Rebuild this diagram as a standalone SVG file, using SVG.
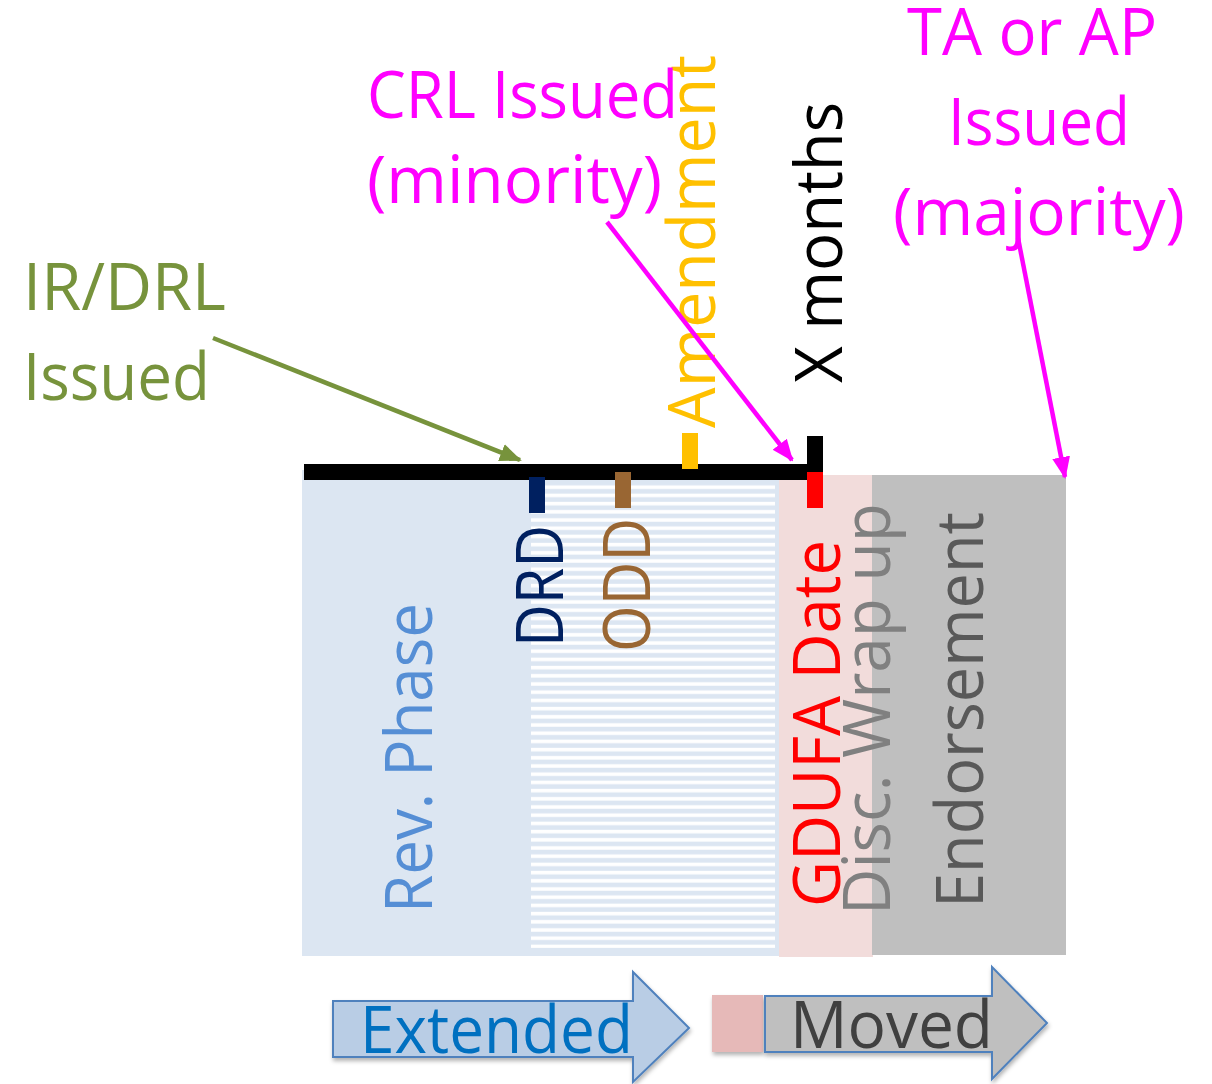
<svg xmlns="http://www.w3.org/2000/svg" width="1212" height="1084" viewBox="0 0 1212 1084">
<style>
  text { font-family: "Open Sans", "Liberation Sans", sans-serif; font-size: 65px; }
  .green { fill: #77933C; }
  .mag { fill: #FF00FF; }
  .conn { fill: none; stroke-width: 4.5; }
</style>
<defs>
  <pattern id="stripes" x="0" y="481" width="8" height="8.2" patternUnits="userSpaceOnUse">
    <rect x="0" y="0" width="8" height="8.2" fill="#DCE6F2"/>
    <rect x="0" y="4.4" width="8" height="3.6" fill="#FFFFFF"/>
  </pattern>
  <marker id="arrGreen" markerWidth="22" markerHeight="20" refX="20" refY="10" orient="auto" markerUnits="userSpaceOnUse">
    <path d="M0,1 L22,10 L0,19 Z" fill="#77933C"/>
  </marker>
  <marker id="arrMag" markerWidth="22" markerHeight="20" refX="20" refY="10" orient="auto" markerUnits="userSpaceOnUse">
    <path d="M0,1 L22,10 L0,19 Z" fill="#FF00FF"/>
  </marker>
  <filter id="shadow" x="-10%" y="-10%" width="130%" height="140%">
    <feDropShadow dx="1" dy="3" stdDeviation="2" flood-color="#000" flood-opacity="0.3"/>
  </filter>
</defs>
<rect width="1212" height="1084" fill="#FFFFFF"/>

<g id="review-phase">
  <rect x="302" y="470" width="477" height="486" fill="#DCE6F2"/>
  <rect x="531" y="481" width="244" height="467" fill="url(#stripes)"/>
  <text transform="translate(432,913) rotate(-90)" fill="#558ED5" textLength="310" lengthAdjust="spacingAndGlyphs">Rev. Phase</text>
</g>

<g id="disc-wrap-up">
  <rect x="779" y="475" width="94" height="482" fill="#F2DCDB"/>
</g>

<g id="endorsement">
  <rect x="872" y="475" width="194" height="480" fill="#BFBFBF"/>
  <text transform="translate(983,908) rotate(-90)" fill="#595959" textLength="396" lengthAdjust="spacingAndGlyphs">Endorsement</text>
</g>

<g id="timeline">
  <rect x="304" y="464" width="519" height="16" fill="#000000"/>
  <rect x="807" y="436" width="16" height="44" fill="#000000"/>
</g>

<g id="drd">
  <rect x="529" y="477" width="16" height="36" fill="#002060"/>
  <text transform="translate(563,647) rotate(-90)" fill="#002060" textLength="122" lengthAdjust="spacingAndGlyphs">DRD</text>
</g>

<g id="odd">
  <rect x="615" y="472" width="16" height="36" fill="#996633"/>
  <text transform="translate(650,652) rotate(-90)" fill="#996633" textLength="134" lengthAdjust="spacingAndGlyphs">ODD</text>
</g>

<g id="amendment">
  <rect x="682" y="433" width="16" height="36" fill="#FFC000"/>
  <text transform="translate(715,428) rotate(-90)" fill="#FFC000" textLength="373" lengthAdjust="spacingAndGlyphs">Amendment</text>
</g>

<g id="gdufa-date">
  <rect x="807" y="472" width="16" height="36" fill="#FF0000"/>
  <text transform="translate(840,907) rotate(-90)" fill="#FF0000" textLength="367" lengthAdjust="spacingAndGlyphs">GDUFA Date</text>
</g>

<g id="disc-wrap-up-label">
  <text transform="translate(890,915) rotate(-90)" fill="#808080" textLength="412" lengthAdjust="spacingAndGlyphs">Disc. Wrap up</text>
</g>

<g id="x-months">
  <text transform="translate(842,383) rotate(-90)" fill="#000000" textLength="281" lengthAdjust="spacingAndGlyphs">X months</text>
</g>

<g id="ir-drl">
  <text class="green" x="23" y="310" textLength="203" lengthAdjust="spacingAndGlyphs">IR/DRL</text>
  <text class="green" x="23" y="400" textLength="187" lengthAdjust="spacingAndGlyphs">Issued</text>
</g>

<g id="crl">
  <text class="mag" x="367" y="118" textLength="311" lengthAdjust="spacingAndGlyphs">CRL Issued</text>
  <text class="mag" x="367" y="203" textLength="295" lengthAdjust="spacingAndGlyphs">(minority)</text>
</g>

<g id="ta-ap">
  <text class="mag" x="907" y="55" textLength="250" lengthAdjust="spacingAndGlyphs">TA or AP</text>
  <text class="mag" x="948" y="145" textLength="182" lengthAdjust="spacingAndGlyphs">Issued</text>
  <text class="mag" x="893" y="235" textLength="292" lengthAdjust="spacingAndGlyphs">(majority)</text>
</g>

<g id="connectors">
  <line class="conn" x1="213" y1="338" x2="520" y2="460" stroke="#77933C" marker-end="url(#arrGreen)"/>
  <line class="conn" x1="607" y1="222" x2="792" y2="460" stroke="#FF00FF" marker-end="url(#arrMag)"/>
  <line class="conn" x1="1018" y1="238" x2="1065" y2="477" stroke="#FF00FF" marker-end="url(#arrMag)"/>
</g>

<g id="extended">
  <path d="M333,1001 L633,1001 L633,972 L689,1028 L633,1082 L633,1057 L333,1057 Z" fill="#B9CDE5" stroke="#4F81BD" stroke-width="2" filter="url(#shadow)"/>
  <text x="360" y="1053" fill="#0070C0" textLength="273" lengthAdjust="spacingAndGlyphs">Extended</text>
</g>

<g id="moved">
  <rect x="712" y="995" width="51" height="57" fill="#E6B9B8" filter="url(#shadow)"/>
  <path d="M765,996 L992,996 L992,967 L1047,1023 L992,1079 L992,1052 L765,1052 Z" fill="#BFBFBF" stroke="#4F81BD" stroke-width="2" filter="url(#shadow)"/>
  <text x="790" y="1048" fill="#404040" textLength="203" lengthAdjust="spacingAndGlyphs">Moved</text>
</g>
</svg>
